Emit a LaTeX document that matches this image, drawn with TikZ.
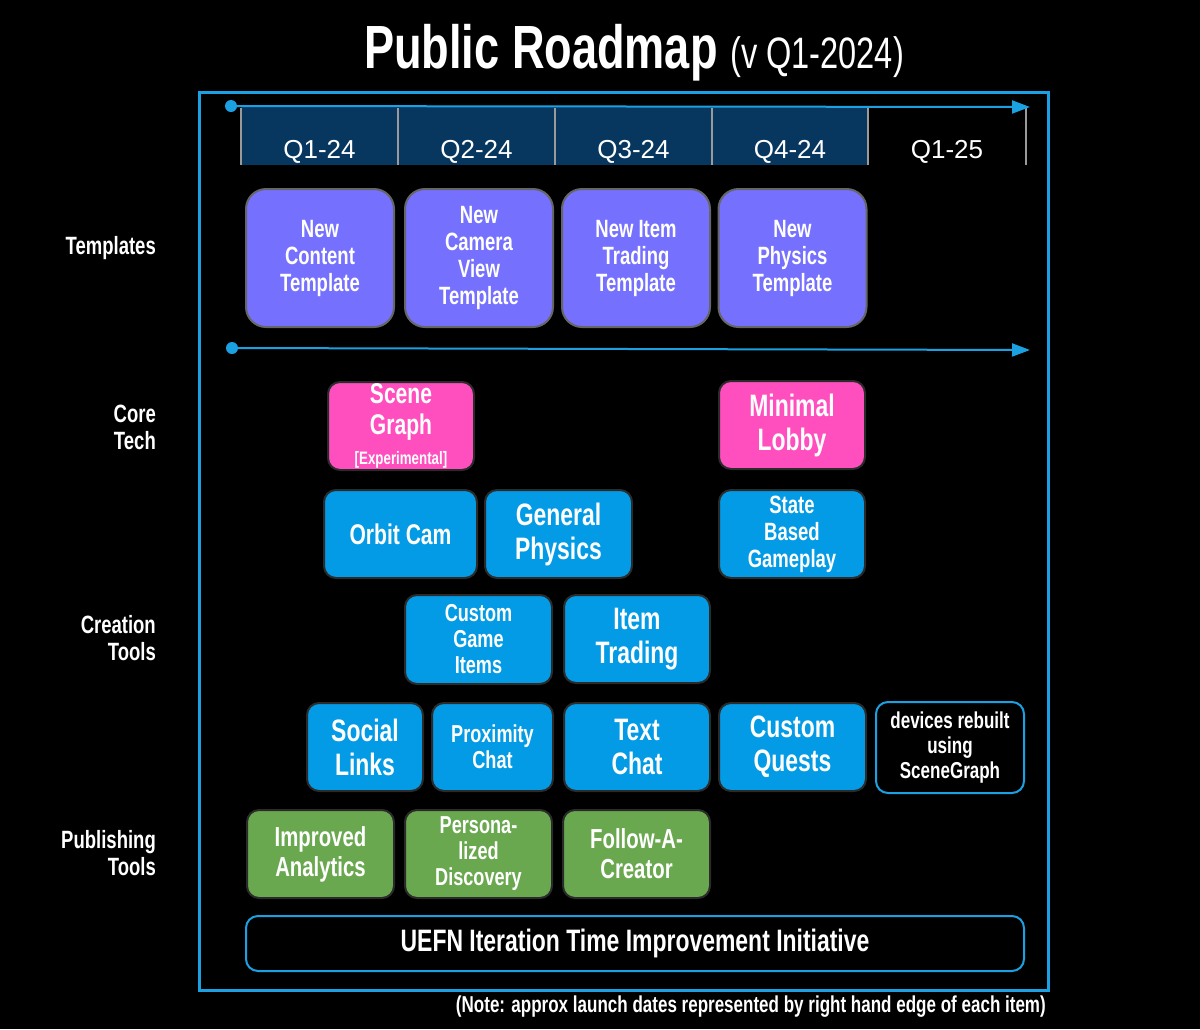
\documentclass[tikz,border=0pt]{standalone}
\usepackage{fontspec}
\setmainfont{Liberation Sans}
\newfontfamily\narrowfont{Liberation Sans}[FakeStretch=0.74]
\usetikzlibrary{arrows.meta}

\definecolor{frameblue}{HTML}{1BA1E2}
\definecolor{quarternavy}{HTML}{07375F}
\definecolor{sepgray}{HTML}{9A9A9A}
\definecolor{tmplpurple}{HTML}{7571FE}
\definecolor{corepink}{HTML}{FF4FBE}
\definecolor{toolblue}{HTML}{039BE5}
\definecolor{pubgreen}{HTML}{6AA84F}
\definecolor{itemedge}{HTML}{2B2B2B}

\tikzset{
  item/.style={draw=itemedge, line width=2pt, rounded corners=12pt,
    text=white, align=center, inner sep=0pt,
    font=\narrowfont\bfseries\fontsize{25}{27}\selectfont},
  tmpl/.style={item, fill=tmplpurple, draw=gray!80!black,
    rounded corners=20pt, minimum width=148pt, minimum height=138pt},
  core/.style={item, fill=corepink, minimum width=146pt, minimum height=88pt},
  tool/.style={item, fill=toolblue, minimum height=88pt},
  pub/.style={item, fill=pubgreen, minimum width=147pt, minimum height=88pt},
  outline/.style={item, fill=black, draw=frameblue},
  bigtext/.style={font=\narrowfont\bfseries\fontsize{31}{34}\selectfont},
  midtext/.style={font=\narrowfont\bfseries\fontsize{27.5}{30}\selectfont},
  smalltext/.style={font=\narrowfont\bfseries\fontsize{24.5}{26}\selectfont},
  rowlabel/.style={anchor=east, align=right, text=white, inner sep=0pt,
    font=\narrowfont\bfseries\fontsize{25}{27}\selectfont},
  qlabel/.style={anchor=base, text=white, font=\fontsize{26}{30}\selectfont},
  timeline/.style={frameblue, line width=2pt,
    -{Triangle[length=18pt,width=13pt]}}
}

\begin{document}
\begin{tikzpicture}[x=1pt,y=-1pt]

  % Canvas
  \fill[black] (0,0) rectangle (1200,1029);
  \useasboundingbox (0,0) rectangle (1200,1029);

  % Title
  \node[anchor=base,text=white,inner sep=0pt] (title) at (634,68)
    {\narrowfont\bfseries\fontsize{61}{64}\selectfont Public Roadmap
     \mdseries\fontsize{44}{48}\selectfont (v Q1-2024)};

  % Frame
  \draw[frameblue,line width=3pt] (199,92) rectangle (1048,990);

  % Quarters
  \fill[quarternavy] (241,107) rectangle (868,165);
  \foreach \x in {241,398,555,712,868,1026}
    \draw[sepgray,line width=1.5pt] (\x,108) -- (\x,165);
  \node[qlabel] (q1) at (319.5,158) {Q1-24};
  \node[qlabel] (q2) at (476.5,158) {Q2-24};
  \node[qlabel] (q3) at (633.5,158) {Q3-24};
  \node[qlabel] (q4) at (790,158) {Q4-24};
  \node[qlabel] (q5) at (947,158) {Q1-25};

  % Timelines
  \coordinate (top0) at (231,106);
  \coordinate (top1) at (1030,107);
  \coordinate (mid0) at (232,348);
  \coordinate (mid1) at (1030,350);
  \fill[frameblue] (top0) circle (6pt);
  \fill[frameblue] (mid0) circle (6pt);
  \draw[timeline] (top0) -- (top1);
  \draw[timeline] (mid0) -- (mid1);

  % Row labels
  \node[rowlabel] (lbltemplates) at (156,248) {Templates};
  \node[rowlabel] (lblcore) at (156,427) {Core\\Tech};
  \node[rowlabel] (lblcreation) at (156,638) {Creation\\Tools};
  \node[rowlabel] (lblpublishing) at (156,853) {Publishing\\Tools};

  % Templates
  \node[tmpl] (newcontent) at (320,258) {New\\Content\\Template};
  \node[tmpl] (newcamera) at (479,258) {New\\Camera\\View\\Template};
  \node[tmpl] (newtrading) at (636,258) {New Item\\Trading\\Template};
  \node[tmpl] (newphysics) at (792.5,258) {New\\Physics\\Template};

  % Core tech
  \node[core,font=\narrowfont\bfseries\fontsize{28.5}{31}\selectfont]
    (scenegraph) at (401,426)
    {Scene\\Graph\\[-1pt]{\fontsize{18}{20}\selectfont[Experimental]}};
  \node[core,bigtext] (lobby) at (792,425) {Minimal\\Lobby};

  % Creation tools
  \node[tool,minimum width=153pt,
    font=\narrowfont\bfseries\fontsize{28.5}{31}\selectfont]
    (orbitcam) at (400.5,534) {Orbit Cam};
  \node[tool,bigtext,minimum width=147pt] (physics) at (558.5,534)
    {General\\Physics};
  \node[tool,minimum width=146pt] (statebased) at (792,534)
    {State\\Based\\Gameplay};
  \node[tool,smalltext,minimum width=147pt,minimum height=89pt]
    (gameitems) at (478.5,639.5) {Custom\\Game\\Items};
  \node[tool,bigtext,minimum width=146pt] (itemtrading) at (637,639)
    {Item\\Trading};
  \node[tool,bigtext,minimum width=116pt] (social) at (365,747)
    {Social\\Links};
  \node[tool,smalltext,minimum width=121pt] (proximity) at (492.5,747)
    {Proximity\\Chat};
  \node[tool,bigtext,minimum width=146pt] (textchat) at (637,747)
    {Text\\Chat};
  \node[tool,bigtext,minimum width=147pt] (quests) at (792.5,747)
    {Custom\\Quests};
  \node[outline,font=\narrowfont\bfseries\fontsize{23}{25}\selectfont,
    minimum width=148pt,minimum height=91pt] (devices) at (950,747.5)
    {devices rebuilt\\using\\SceneGraph};

  % Publishing tools
  \node[pub,midtext] (analytics) at (320.5,854) {Improved\\Analytics};
  \node[pub,smalltext] (discovery) at (478.5,854)
    {Persona-\\lized\\Discovery};
  \node[pub,midtext] (follow) at (636.5,854) {Follow-A-\\Creator};

  % Initiative
  \node[outline,font=\narrowfont\bfseries\fontsize{31}{34}\selectfont,
    minimum width=778pt,minimum height=55pt]
    (uefn) at (635,943.5) {UEFN Iteration Time Improvement Initiative};

  % Note
  \node[anchor=east,text=white,inner sep=0pt,
    font=\narrowfont\bfseries\fontsize{23}{24}\selectfont] (note) at (1046,1007)
    {(Note: approx launch dates represented by right hand edge of each item)};

\end{tikzpicture}
\end{document}
